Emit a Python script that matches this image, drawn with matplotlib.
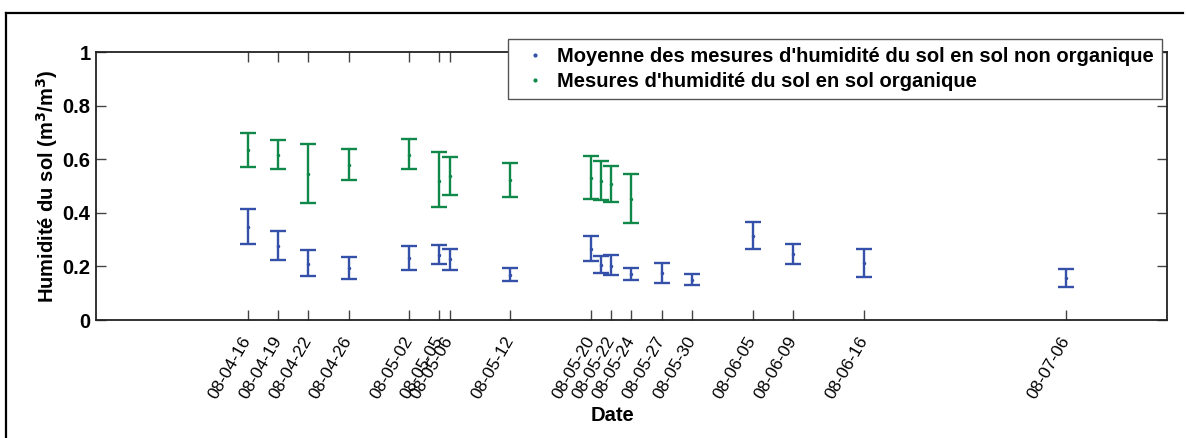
import matplotlib
matplotlib.use("Agg")
import matplotlib.pyplot as plt
import matplotlib.dates as mdates
from matplotlib.lines import Line2D
import numpy as np
import datetime as dt

plt.rcParams['font.family'] = ['Liberation Sans', 'DejaVu Sans']

# non organique (blue)
dates_no = ["2008-04-16", "2008-04-19", "2008-04-22", "2008-04-26", "2008-05-02",
            "2008-05-05", "2008-05-06", "2008-05-12", "2008-05-20", "2008-05-21",
            "2008-05-22", "2008-05-24", "2008-05-27", "2008-05-30", "2008-06-05",
            "2008-06-09", "2008-06-16", "2008-07-06"]
mean_no = [0.348, 0.276, 0.208, 0.194, 0.230, 0.244, 0.226, 0.169, 0.265, 0.205,
           0.200, 0.172, 0.175, 0.150, 0.315, 0.248, 0.211, 0.158]
low_no = [0.285, 0.224, 0.163, 0.152, 0.188, 0.209, 0.188, 0.144, 0.220, 0.174,
          0.167, 0.148, 0.137, 0.131, 0.266, 0.209, 0.162, 0.124]
high_no = [0.414, 0.332, 0.260, 0.235, 0.277, 0.280, 0.264, 0.195, 0.313, 0.239,
           0.243, 0.195, 0.213, 0.173, 0.364, 0.285, 0.266, 0.192]

# organique (green)
dates_org = ["2008-04-16", "2008-04-19", "2008-04-22", "2008-04-26", "2008-05-02",
             "2008-05-05", "2008-05-06", "2008-05-12", "2008-05-20", "2008-05-21",
             "2008-05-22", "2008-05-24"]
mean_org = [0.634, 0.617, 0.545, 0.577, 0.617, 0.520, 0.539, 0.524, 0.531, 0.520,
            0.506, 0.451]
low_org = [0.572, 0.563, 0.437, 0.521, 0.563, 0.420, 0.468, 0.460, 0.453, 0.448,
           0.439, 0.361]
high_org = [0.697, 0.672, 0.657, 0.639, 0.675, 0.626, 0.608, 0.586, 0.612, 0.593,
            0.576, 0.546]

tick_dates = ["2008-04-16", "2008-04-19", "2008-04-22", "2008-04-26", "2008-05-02",
              "2008-05-05", "2008-05-06", "2008-05-12", "2008-05-20", "2008-05-22",
              "2008-05-24", "2008-05-27", "2008-05-30", "2008-06-05", "2008-06-09",
              "2008-06-16", "2008-07-06"]

labels = ["Moyenne des mesures d'humidité du sol en sol non organique",
          "Mesures d'humidité du sol en sol organique"]
blue = '#3450a8'
green = '#10884a'

def todate(lst):
    return [dt.datetime.strptime(s, "%Y-%m-%d") for s in lst]

fig = plt.figure(figsize=(11.87, 4.38), dpi=100)
ax = fig.add_axes([96/1187, 1-320/438, (1166.7-96)/1187, (320-52)/438])

for d, m, lo, hi, c in [(dates_no, mean_no, low_no, high_no, blue),
                        (dates_org, mean_org, low_org, high_org, green)]:
    m = np.array(m)
    yerr = [m - np.array(lo), np.array(hi) - m]
    ax.errorbar(todate(d), m, yerr=yerr, fmt='.', color=c, ms=3,
                elinewidth=1.7, capsize=6, capthick=1.7)

ax.set_xlim(dt.datetime(2008, 4, 1), dt.datetime(2008, 7, 16))
ax.set_ylim(0, 1)
ax.set_xticks(todate(tick_dates))
ax.xaxis.set_major_formatter(mdates.DateFormatter('%y-%m-%d'))
ax.set_yticks([0, 0.2, 0.4, 0.6, 0.8, 1])
ax.set_yticklabels(['0', '0.2', '0.4', '0.6', '0.8', '1'], fontsize=14.5, fontweight='bold')
for lab in ax.get_xticklabels():
    lab.set_rotation(60)
    lab.set_ha('right')
    lab.set_va('center')
    lab.set_rotation_mode('anchor')
    lab.set_fontsize(12.5)

ax.tick_params(direction='in', length=7.5, width=1, color='#444444',
               top=True, right=True)
ax.tick_params(axis='x', pad=13)
ax.tick_params(axis='y', pad=4)
for s in ax.spines.values():
    s.set_color('#222222')
    s.set_linewidth(1.3)

ax.set_xlabel('Date', fontsize=14.5, fontweight='bold')
ax.xaxis.set_label_coords((612-96)/1070.7, (320-406)/268)
ax.set_ylabel('Humidité du sol (m$^\\mathbf{3}$/m$^\\mathbf{3}$)', fontsize=14.5, fontweight='bold')
ax.yaxis.set_label_coords((60-96)/1070.7, 0.5)

handles = [Line2D([], [], ls='none', marker='.', ms=4, color=blue),
           Line2D([], [], ls='none', marker='.', ms=4, color=green)]
leg = ax.legend(handles, labels, loc='upper right',
                bbox_to_anchor=((1162-96)/1070.7, (320-39)/268),
                borderaxespad=0, fancybox=False, framealpha=1,
                edgecolor='#555555', handlelength=1.9, handletextpad=0.15,
                borderpad=0.4, labelspacing=0.3,
                prop={'size': 14.5, 'weight': 'bold'})
leg.get_frame().set_linewidth(1.0)

fig.add_artist(Line2D([6/1187, 1183/1187], [1-12.7/438, 1-12.7/438],
                      color='black', lw=1.6, transform=fig.transFigure))
fig.add_artist(Line2D([6/1187, 6/1187], [0, 1-12.7/438],
                      color='black', lw=1.6, transform=fig.transFigure))

fig.savefig('out.png', dpi=100)
